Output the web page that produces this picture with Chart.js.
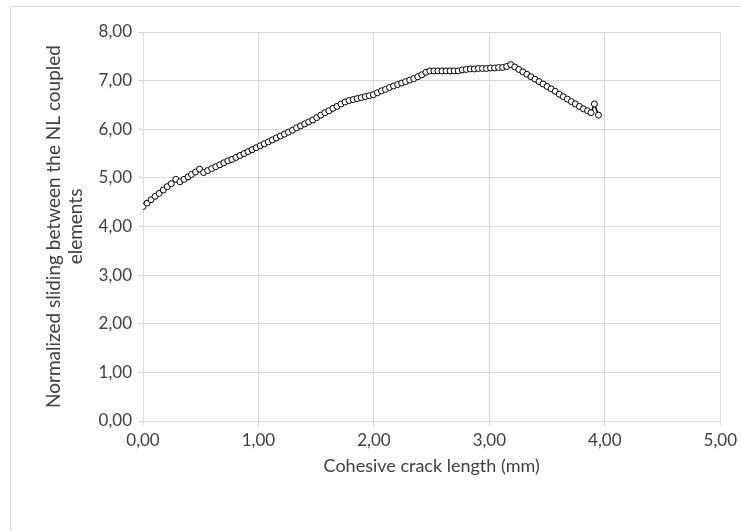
<!DOCTYPE html>
<html>
<head>
<meta charset="utf-8">
<script src="https://cdn.jsdelivr.net/npm/chart.js@4"></script>
<style>
  html, body { margin: 0; padding: 0; background: #fff; }
  #wrap { width: 741px; height: 531px; position: relative; }
</style>
</head>
<body>
<div id="wrap"><canvas id="chart" width="741" height="531"></canvas></div>
<script>
// crack length (mm)
const crackLength = [
  0.000, 0.035, 0.070, 0.105, 0.140, 0.175, 0.210, 0.245, 0.285,
  0.320, 0.355, 0.390, 0.420, 0.455, 0.490, 0.525,
  0.560, 0.595, 0.630, 0.665, 0.700, 0.735, 0.770, 0.805, 0.840, 0.875,
  0.910, 0.945, 0.980, 1.015, 1.050, 1.085, 1.120, 1.155, 1.190, 1.225,
  1.260, 1.295, 1.330, 1.365, 1.400, 1.435, 1.470, 1.505, 1.540, 1.575,
  1.610, 1.645, 1.680, 1.715, 1.750, 1.785,
  1.820, 1.855, 1.890, 1.925, 1.960, 1.995,
  2.030, 2.065, 2.100, 2.135, 2.170, 2.205, 2.240, 2.275, 2.310, 2.345,
  2.380, 2.415, 2.450,
  2.485, 2.520, 2.555, 2.590, 2.625, 2.660, 2.695, 2.730, 2.765, 2.800,
  2.835, 2.870, 2.905, 2.940, 2.975, 3.010, 3.045, 3.080, 3.115, 3.150, 3.185,
  3.220, 3.255, 3.290, 3.325, 3.360, 3.395, 3.430, 3.465, 3.500, 3.535,
  3.570, 3.605, 3.640, 3.675, 3.710, 3.745, 3.780, 3.815, 3.850, 3.880,
  3.910, 3.945
];

// normalized sliding between the NL coupled elements
const sliding = [
  4.41, 4.48, 4.55, 4.62, 4.68, 4.75, 4.82, 4.88, 4.97,
  4.92, 4.97, 5.02, 5.07, 5.12, 5.18, 5.11,
  5.15, 5.19, 5.23, 5.27, 5.31, 5.35, 5.38, 5.42, 5.46, 5.50,
  5.54, 5.58, 5.62, 5.66, 5.70, 5.74, 5.78, 5.82, 5.86, 5.90,
  5.94, 5.98, 6.03, 6.07, 6.11, 6.15, 6.19, 6.24, 6.29, 6.34,
  6.38, 6.43, 6.47, 6.52, 6.56, 6.59,
  6.61, 6.63, 6.65, 6.67, 6.69, 6.71,
  6.75, 6.79, 6.82, 6.86, 6.89, 6.92, 6.95, 6.98, 7.01, 7.04,
  7.08, 7.12, 7.17,
  7.20, 7.20, 7.20, 7.20, 7.20, 7.20, 7.20, 7.20, 7.22, 7.23,
  7.24, 7.24, 7.25, 7.25, 7.25, 7.26, 7.26, 7.27, 7.27, 7.29, 7.33,
  7.28, 7.23, 7.18, 7.13, 7.08, 7.03, 6.98, 6.93, 6.88, 6.83,
  6.78, 6.72, 6.67, 6.62, 6.57, 6.52, 6.47, 6.42, 6.38, 6.34,
  6.52, 6.29
];

const xTitle = 'Cohesive crack length (mm)';
const yTitle = ['Normalized sliding between the NL coupled', 'elements'];

const points = crackLength.map((x, i) => ({ x: x, y: sliding[i] }));
const fmt = v => v.toFixed(2).replace('.', ',');
const FONT = 'Lato, "Open Sans", sans-serif';
const GRID = '#d9d9d9';
const TEXT = '#404040';

// light border round the whole chart, like the spreadsheet frame
const frame = {
  id: 'frame',
  beforeDraw(chart) {
    const c = chart.ctx;
    c.save();
    c.fillStyle = '#fff';
    c.fillRect(0, 0, chart.width, chart.height);
    c.strokeStyle = GRID;
    c.lineWidth = 1;
    c.strokeRect(10.5, 6.5, 900, 700);
    c.restore();
  }
};

new Chart(document.getElementById('chart'), {
  type: 'scatter',
  data: {
    datasets: [{
      data: points,
      showLine: true,
      borderColor: '#000',
      borderWidth: 1.5,
      pointRadius: 3,
      pointBorderWidth: 1,
      pointBorderColor: '#000',
      pointBackgroundColor: '#fff'
    }]
  },
  plugins: [frame],
  options: {
    responsive: false,
    animation: false,
    layout: { padding: { left: 38, top: 32, right: 17, bottom: 54 } },
    plugins: { legend: { display: false }, tooltip: { enabled: false } },
    scales: {
      x: {
        type: 'linear',
        min: 0, max: 5,
        ticks: { stepSize: 1, callback: fmt, color: TEXT, font: { family: FONT, size: 17 }, padding: 4 },
        grid: { color: GRID, tickLength: 5 },
        border: { color: GRID },
        title: { display: true, text: xTitle, color: TEXT, font: { family: FONT, size: 18 }, padding: { top: 2, bottom: 0 } },
        afterFit(s) { s.height = 531 - 421 - 54; }
      },
      y: {
        min: 0, max: 8,
        ticks: { stepSize: 1, callback: fmt, color: TEXT, font: { family: FONT, size: 17 }, padding: 6 },
        grid: { color: GRID, tickLength: 5 },
        border: { color: GRID },
        title: { display: true, text: yTitle, color: TEXT, font: { family: FONT, size: 19, lineHeight: 1.2 }, padding: 4 },
        afterFit(s) { s.width = 143 - 38; }
      }
    }
  }
});
</script>
</body>
</html>
